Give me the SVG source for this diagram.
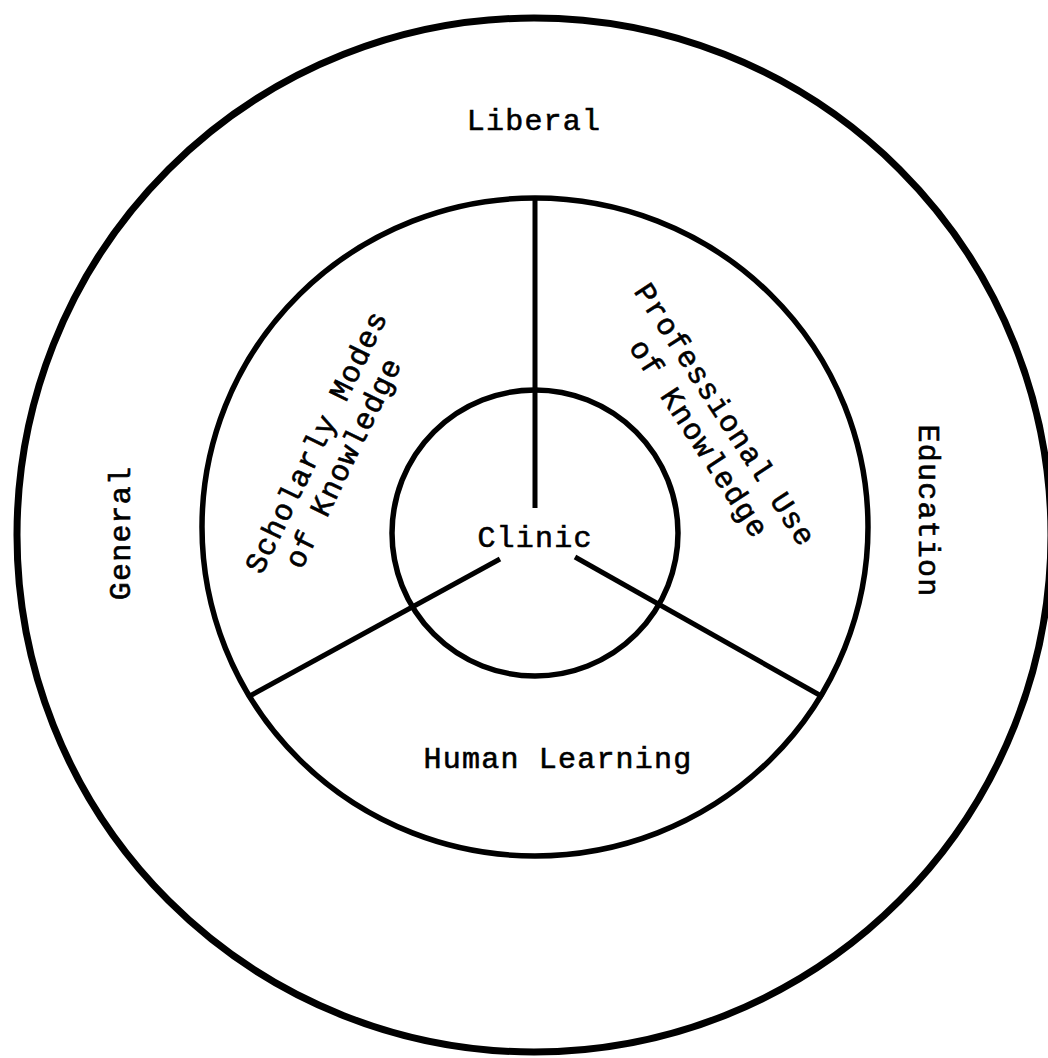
<svg xmlns="http://www.w3.org/2000/svg" width="1048" height="1058" viewBox="0 0 1048 1058">
<style>
.ring{fill:none;stroke:#000}
.conn{stroke:#000;stroke-width:5;stroke-linecap:butt;fill:none}
.lbl{font-family:"Liberation Mono","DejaVu Sans Mono",monospace;font-size:30px;letter-spacing:1.2px;fill:#000;stroke:#000;stroke-width:0.6px;text-anchor:middle}
</style>
<rect width="1048" height="1058" fill="#fff"/>
<g id="outer-ring">
<circle class="ring" cx="534" cy="535" r="517" stroke-width="7"/>
<text class="lbl" x="534" y="130">Liberal</text>
<text class="lbl" transform="translate(130,533) rotate(-90)">General</text>
<text class="lbl" transform="translate(919,511) rotate(90)">Education</text>
</g>
<g id="middle-ring">
<ellipse class="ring" cx="535" cy="527" rx="333" ry="329" stroke-width="5.5"/>
</g>
<g id="scholarly">
<text class="lbl" transform="translate(325,446) rotate(-64)">Scholarly Modes</text>
<text class="lbl" transform="translate(352,467) rotate(-64)">of Knowledge</text>
</g>
<g id="professional">
<text class="lbl" transform="translate(717,420) rotate(57)">Professional Use</text>
<text class="lbl" transform="translate(691,444) rotate(57)">of Knowledge</text>
</g>
<g id="human-learning">
<text class="lbl" x="558" y="768">Human Learning</text>
</g>
<g id="clinic">
<circle class="ring" cx="535" cy="533" r="143" stroke-width="5.5"/>
<text class="lbl" x="535" y="547">Clinic</text>
</g>
<g id="connectors">
<line class="conn" x1="535" y1="199" x2="535" y2="508"/>
<line class="conn" x1="500" y1="559" x2="248" y2="697"/>
<line class="conn" x1="575" y1="557" x2="823" y2="697"/>
</g>
</svg>
